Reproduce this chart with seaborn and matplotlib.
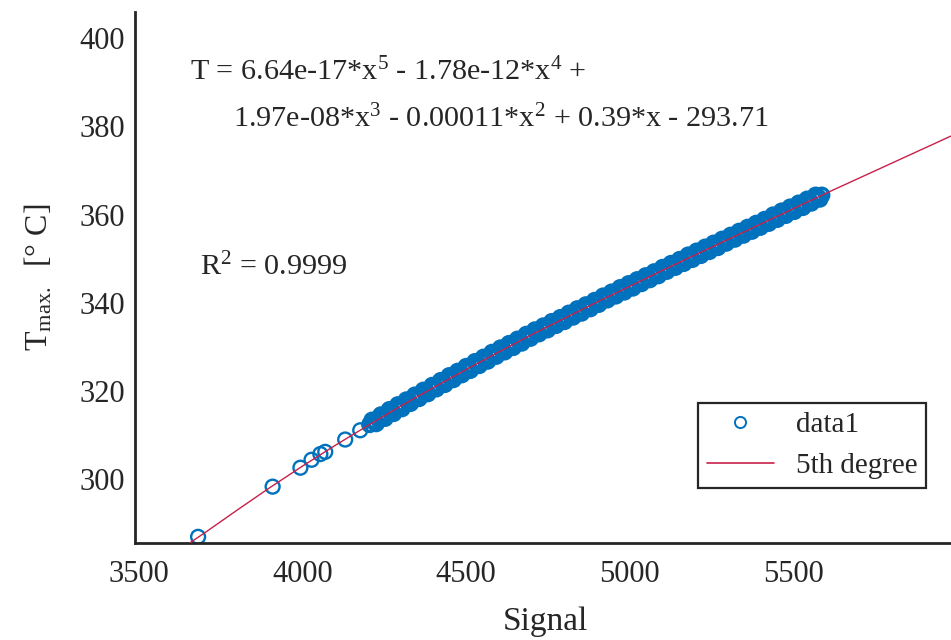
import numpy as np
import pandas as pd
import matplotlib
matplotlib.use("Agg")
import matplotlib.pyplot as plt
from matplotlib.lines import Line2D
import seaborn as sns

# ---- data ----
sparse_signal = [3680, 3908, 3993, 4027, 4054, 4069, 4130, 4176]
sparse_temp = [286.8, 298.2, 302.5, 304.3, 305.6, 306.1, 308.9, 311.0]

dense_signal = [4205, 4218, 4232, 4246, 4258, 4271, 4285, 4297, 4310, 4324, 4337, 4350,
                4362, 4376, 4390, 4402, 4415, 4428, 4441, 4455, 4467, 4480, 4494, 4507,
                4520, 4533, 4546, 4560, 4572, 4585, 4598, 4612, 4625, 4637, 4650, 4664,
                4677, 4690, 4703, 4716, 4730, 4742, 4755, 4769, 4782, 4795, 4808, 4821,
                4834, 4847, 4860, 4873, 4886, 4900, 4913, 4926, 4939, 4952, 4965, 4978,
                4991, 5004, 5017, 5030, 5043, 5056, 5069, 5082, 5095, 5108, 5121, 5134,
                5147, 5160, 5173, 5186, 5199, 5212, 5225, 5238, 5251, 5264, 5277, 5290,
                5303, 5316, 5329, 5342, 5355, 5368, 5381, 5394, 5407, 5420, 5433, 5446,
                5459, 5472, 5485, 5498, 5511, 5524, 5537, 5550, 5563, 5576, 5588]
dense_temp = [312.3, 312.9, 313.5, 314.1, 314.7, 315.2, 315.8, 316.4, 316.9, 317.5, 318.1, 318.6,
              319.1, 319.7, 320.3, 320.8, 321.3, 321.9, 322.4, 323.0, 323.5, 324.0, 324.6, 325.1,
              325.6, 326.1, 326.6, 327.2, 327.7, 328.2, 328.7, 329.3, 329.8, 330.2, 330.7, 331.3,
              331.8, 332.3, 332.8, 333.3, 333.8, 334.3, 334.7, 335.2, 335.7, 336.2, 336.7, 337.2,
              337.7, 338.1, 338.6, 339.1, 339.6, 340.1, 340.6, 341.0, 341.5, 342.0, 342.4, 342.9,
              343.4, 343.8, 344.3, 344.8, 345.2, 345.7, 346.1, 346.6, 347.1, 347.6, 348.0, 348.5,
              348.9, 349.4, 349.9, 350.3, 350.8, 351.2, 351.7, 352.1, 352.6, 353.0, 353.5, 354.0,
              354.4, 354.9, 355.3, 355.8, 356.2, 356.7, 357.1, 357.6, 358.0, 358.5, 359.0, 359.4,
              359.9, 360.3, 360.8, 361.2, 361.7, 362.1, 362.6, 363.1, 363.5, 364.0, 364.4]

extra_signal = [4212, 4225, 4239, 4252, 4265, 4278, 4291, 4304, 4317, 4330,
                4343, 4356, 4369, 4383, 4396, 4409, 4422, 4435, 4448, 4461,
                4474, 4487, 4500, 4513, 4527, 4540, 4553, 4566, 4579, 4592,
                4605, 4618, 4631, 4644, 4657, 4670, 4684, 4697, 4710, 4723,
                4736, 4749, 4762, 4775, 4788, 4801, 4814, 4827, 4840, 4853,
                4866, 4880, 4893, 4906, 4919, 4932, 4945, 4958, 4971, 4984,
                4997, 5010, 5023, 5036, 5049, 5062, 5075, 5088, 5101, 5114,
                5127, 5140, 5153, 5166, 5179, 5192, 5205, 5218, 5231, 5244,
                5257, 5270, 5283, 5296, 5309, 5322, 5335, 5348, 5361, 5374,
                5387, 5400, 5413, 5426, 5439, 5452, 5465, 5478, 5491, 5504,
                5517, 5530, 5543, 5556, 5569, 5582]
extra_temp = [313.3, 312.5, 314.5, 313.7, 315.7, 314.8, 316.8, 315.9, 317.9, 317.1,
              319.0, 318.2, 320.1, 319.3, 321.2, 320.4, 322.3, 321.4, 323.4, 322.5,
              324.4, 323.6, 325.5, 324.6, 326.6, 325.7, 327.6, 326.7, 328.7, 327.8,
              329.7, 328.8, 330.7, 329.8, 331.7, 330.8, 332.8, 331.9, 333.8, 332.9,
              334.7, 333.8, 335.7, 334.8, 336.6, 335.7, 337.6, 336.7, 338.6, 337.6,
              339.5, 338.6, 340.5, 339.6, 341.5, 340.6, 342.4, 341.5, 343.4, 342.4,
              344.3, 343.3, 345.2, 344.3, 346.1, 345.2, 347.0, 346.1, 348.0, 347.1,
              348.9, 348.0, 349.8, 348.9, 350.8, 349.8, 351.7, 350.7, 352.6, 351.6,
              353.5, 352.5, 354.4, 353.5, 355.3, 354.4, 356.2, 355.3, 357.1, 356.2,
              358.0, 357.1, 358.9, 358.0, 359.9, 358.9, 360.8, 359.8, 361.7, 360.7,
              362.6, 361.6, 363.5, 362.6, 364.4, 363.5]

fit_signal = [3640, 3700, 3800, 3900, 4000, 4100, 4200, 4300, 4400, 4500, 4600, 4700, 4800,
              4900, 5000, 5100, 5200, 5300, 5400, 5500, 5600, 5700, 5800, 5900, 6000]
fit_temp = [284.7, 287.7, 292.9, 298.0, 302.9, 307.6, 312.1, 316.5, 320.7, 324.8, 328.8, 332.7,
            336.4, 340.1, 343.7, 347.3, 350.8, 354.3, 357.8, 361.3, 364.8, 368.2, 371.6, 375.0, 378.4]

x_ticks = [3500, 4000, 4500, 5000, 5500]
y_ticks = [300, 320, 340, 360, 380, 400]

eq_line1 = r"T = 6.64e-17*x$^{5}$ - 1.78e-12*x$^{4}$ +"
eq_line2 = r"1.97e-08*x$^{3}$ - 0.00011*x$^{2}$ + 0.39*x - 293.71"
r2_text = r"R$^{2}$ = 0.9999"

# ---- styling ----
sns.set_theme(style="white")
plt.rcParams["font.family"] = ["Liberation Serif", "DejaVu Serif"]
plt.rcParams["mathtext.fontset"] = "custom"
plt.rcParams["mathtext.rm"] = "Liberation Serif"
plt.rcParams["mathtext.it"] = "Liberation Serif"
plt.rcParams["mathtext.default"] = "regular"

blue = "#0072BD"
red = "#C8204A"
dark = "#262626"

fig = plt.figure(figsize=(9.51, 6.40), dpi=100)
ax = fig.add_axes([135 / 951, 97 / 640, 821.5 / 951, (543 - 12) / 640])

sparse = pd.DataFrame({"Signal": sparse_signal, "T": sparse_temp})
dense = pd.DataFrame({"Signal": dense_signal + extra_signal,
                      "T": dense_temp + extra_temp})
fit = pd.DataFrame({"Signal": fit_signal, "T": fit_temp})

sns.scatterplot(data=sparse, x="Signal", y="T", ax=ax, marker="o", s=100,
                facecolor="none", edgecolor=blue, linewidth=1.7, zorder=2, legend=False)
sns.scatterplot(data=dense, x="Signal", y="T", ax=ax, marker="o", s=100,
                facecolor="none", edgecolor=blue, linewidth=2.4, zorder=2, legend=False)
sns.lineplot(data=fit, x="Signal", y="T", ax=ax, color=red, linewidth=1.0,
             zorder=3, legend=False, sort=True)

ax.set_xlim(3487, 6000)
ax.set_ylim(285.4, 406.0)
ax.set_xticks(x_ticks)
ax.set_yticks(y_ticks)
ax.tick_params(direction="in", length=6, width=1.5, labelsize=22, colors=dark)
ax.tick_params(axis="x", pad=12)
ax.tick_params(axis="y", pad=7)
for s in ["top", "right"]:
    ax.spines[s].set_visible(False)
for s in ["left", "bottom"]:
    ax.spines[s].set_linewidth(2.0)
    ax.spines[s].set_color(dark)

ax.set_xlabel("Signal", fontsize=24, color=dark, labelpad=13)
ax.set_ylabel("T$_{max.}$  [° C]", fontsize=23, color=dark, labelpad=18)

ax.text(190 / 951, 1 - 80 / 640, eq_line1, transform=fig.transFigure,
        fontsize=21.7, color=dark, ha="left", va="baseline")
ax.text(233 / 951, 1 - 127 / 640, eq_line2, transform=fig.transFigure,
        fontsize=21.7, color=dark, ha="left", va="baseline")
ax.text(200 / 951, 1 - 275 / 640, r2_text, transform=fig.transFigure,
        fontsize=21.7, color=dark, ha="left", va="baseline")

handles = [Line2D([], [], linestyle="none", marker="o", markersize=8,
                  markerfacecolor="none", markeredgecolor=blue, markeredgewidth=1.4),
           Line2D([], [], color=red, linewidth=1.2)]
leg = ax.legend(handles, ["data1", "5th degree"], loc="upper left",
                bbox_to_anchor=(698 / 951, 1 - 403 / 640),
                bbox_transform=fig.transFigure, fontsize=21, frameon=True,
                fancybox=False, edgecolor=dark, framealpha=1, handlelength=2.3,
                borderpad=0.3, labelspacing=0.5, handletextpad=0.75,
                borderaxespad=0)
leg.get_frame().set_linewidth(1.6)
for t in leg.get_texts():
    t.set_color(dark)

fig.savefig("out.png", dpi=100)
